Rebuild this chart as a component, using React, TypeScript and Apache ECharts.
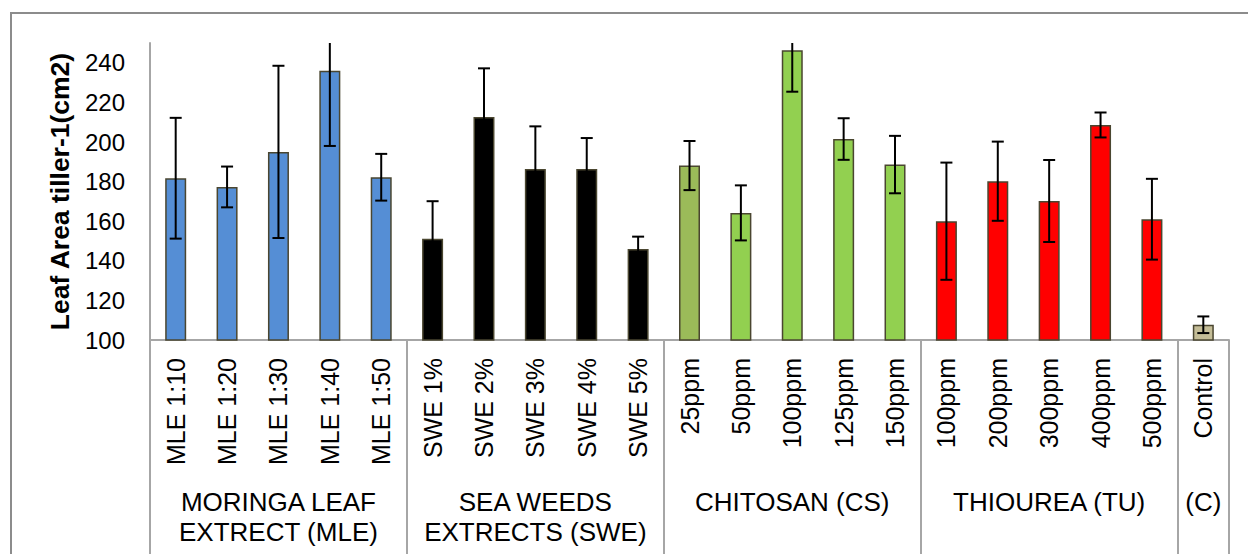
import React, { useEffect, useRef } from "react";
import * as echarts from "echarts";

const categories = [
  "MLE 1:10", "MLE 1:20", "MLE 1:30", "MLE 1:40", "MLE 1:50",
  "SWE 1%", "SWE 2%", "SWE 3%", "SWE 4%", "SWE 5%",
  "25ppm", "50ppm", "100ppm", "125ppm", "150ppm",
  "100ppm", "200ppm", "300ppm", "400ppm", "500ppm",
  "Control",
];
const leafArea = [
  181.7, 177.3, 195.0, 236.0, 182.2,
  151.1, 212.6, 186.4, 186.4, 145.9,
  188.1, 164.2, 246.4, 201.5, 188.6,
  160.0, 180.2, 170.2, 208.6, 161.0,
  107.7,
];
const errorBars = [
  30.5, 10.3, 43.5, 38.0, 11.8,
  19.0, 24.6, 21.5, 15.6, 6.3,
  12.4, 13.9, 21.0, 10.5, 14.5,
  29.6, 20.0, 20.7, 6.3, 20.4,
  4.2,
];
const barColors = [
  "#558ed5", "#558ed5", "#558ed5", "#558ed5", "#558ed5",
  "#000000", "#000000", "#000000", "#000000", "#000000",
  "#9bbb59", "#92d050", "#92d050", "#92d050", "#92d050",
  "#ff0000", "#ff0000", "#ff0000", "#ff0000", "#ff0000",
  "#c4bd97",
];
const groupNames = [
  "MORINGA LEAF\nEXTRECT (MLE)",
  "SEA WEEDS\nEXTRECTS (SWE)",
  "CHITOSAN (CS)",
  "THIOUREA (TU)",
  "(C)",
];
const groupStart = [0, 5, 10, 15, 20];
const groupSize = [5, 5, 5, 5, 1];
const yMin = 100;
const yMax = 250;
const yInterval = 20;
const yTitle = "Leaf Area tiller-1(cm2)";

const FONT = "'Liberation Sans', Arial, sans-serif";
const AXIS_GRAY = "#a6a6a6";

export default function App() {
  const ref = useRef<HTMLDivElement>(null);

  useEffect(() => {
    if (!ref.current) return;
    const chart = echarts.init(ref.current, undefined, { renderer: "svg" });

    const groupLabelAt: Record<number, string> = {};
    groupStart.forEach((s, g) => {
      groupLabelAt[s + Math.floor(groupSize[g] / 2)] = groupNames[g];
    });
    const boundaries = new Set(groupStart);

    const errData = leafArea.map((v, i) => [i, v - errorBars[i], v + errorBars[i]]);

    const option: any = {
      animation: false,
      backgroundColor: "#ffffff",
      grid: {
        left: 150,
        right: 19,
        top: 43,
        bottom: 214,
        containLabel: false,
        outerBoundsMode: "none",
      },
      graphic: [
        {
          type: "rect",
          shape: { x: 11, y: 13, width: 1300, height: 700 },
          style: { fill: "none", stroke: "#8c8c8c", lineWidth: 2 },
          silent: true,
          z: 0,
        },
      ],
      xAxis: [
        {
          type: "category",
          data: categories,
          position: "bottom",
          axisLine: { show: true, lineStyle: { color: AXIS_GRAY, width: 2 } },
          axisTick: { show: false },
          axisLabel: {
            rotate: 90,
            interval: 0,
            margin: 18,
            color: "#000",
            fontFamily: FONT,
            fontSize: 25,
          },
        },
        {
          type: "category",
          data: categories,
          position: "bottom",
          axisLine: { show: false },
          axisTick: {
            show: true,
            length: 230,
            interval: (i: number) => boundaries.has(i),
            lineStyle: { color: AXIS_GRAY, width: 2 },
          },
          axisLabel: {
            interval: (i: number) => groupLabelAt[i] !== undefined,
            formatter: (_v: string, i: number) => groupLabelAt[i] ?? "",
            margin: 147,
            color: "#000",
            fontFamily: FONT,
            fontSize: 26,
            lineHeight: 30,
            align: "center",
            verticalAlign: "top",
          },
        },
      ],
      yAxis: {
        type: "value",
        min: yMin,
        max: yMax,
        interval: yInterval,
        name: yTitle,
        nameLocation: "middle",
        nameRotate: 90,
        nameGap: 77,
        nameTextStyle: {
          fontFamily: FONT,
          fontSize: 26.5,
          fontWeight: "bold",
          color: "#000",
        },
        axisLine: { show: true, lineStyle: { color: AXIS_GRAY, width: 2 } },
        axisTick: { show: false },
        splitLine: { show: false },
        axisLabel: {
          showMaxLabel: false,
          margin: 25,
          color: "#000",
          fontFamily: FONT,
          fontSize: 24,
        },
      },
      series: [
        {
          type: "bar",
          xAxisIndex: 0,
          barWidth: 21,
          data: leafArea.map((v, i) => ({
            value: v,
            itemStyle: {
              color: barColors[i],
              borderColor: "#4a4630",
              borderWidth: 1.5,
            },
          })),
          z: 2,
        },
        {
          type: "custom",
          xAxisIndex: 0,
          z: 5,
          data: errData,
          encode: { x: 0, y: [1, 2] },
          renderItem: (params: any, api: any) => {
            const idx = api.value(0);
            const lo = api.value(1);
            const hi = api.value(2);
            const hiClamped = Math.min(hi, yMax);
            const pLo = api.coord([idx, lo]);
            const pHi = api.coord([idx, hiClamped]);
            const half = 6;
            const style = { stroke: "#000", lineWidth: 2 };
            const children: any[] = [
              { type: "line", shape: { x1: pLo[0], y1: pLo[1], x2: pHi[0], y2: pHi[1] }, style },
              { type: "line", shape: { x1: pLo[0] - half, y1: pLo[1], x2: pLo[0] + half, y2: pLo[1] }, style },
            ];
            if (hi <= yMax) {
              children.push({
                type: "line",
                shape: { x1: pHi[0] - half, y1: pHi[1], x2: pHi[0] + half, y2: pHi[1] },
                style,
              });
            }
            return { type: "group", children };
          },
        },
      ],
    };

    chart.setOption(option);
    return () => {
      chart.dispose();
    };
  }, []);

  return (
    <div
      ref={ref}
      style={{ position: "fixed", left: 0, top: 0, width: 1248, height: 554, background: "#fff" }}
    />
  );
}
